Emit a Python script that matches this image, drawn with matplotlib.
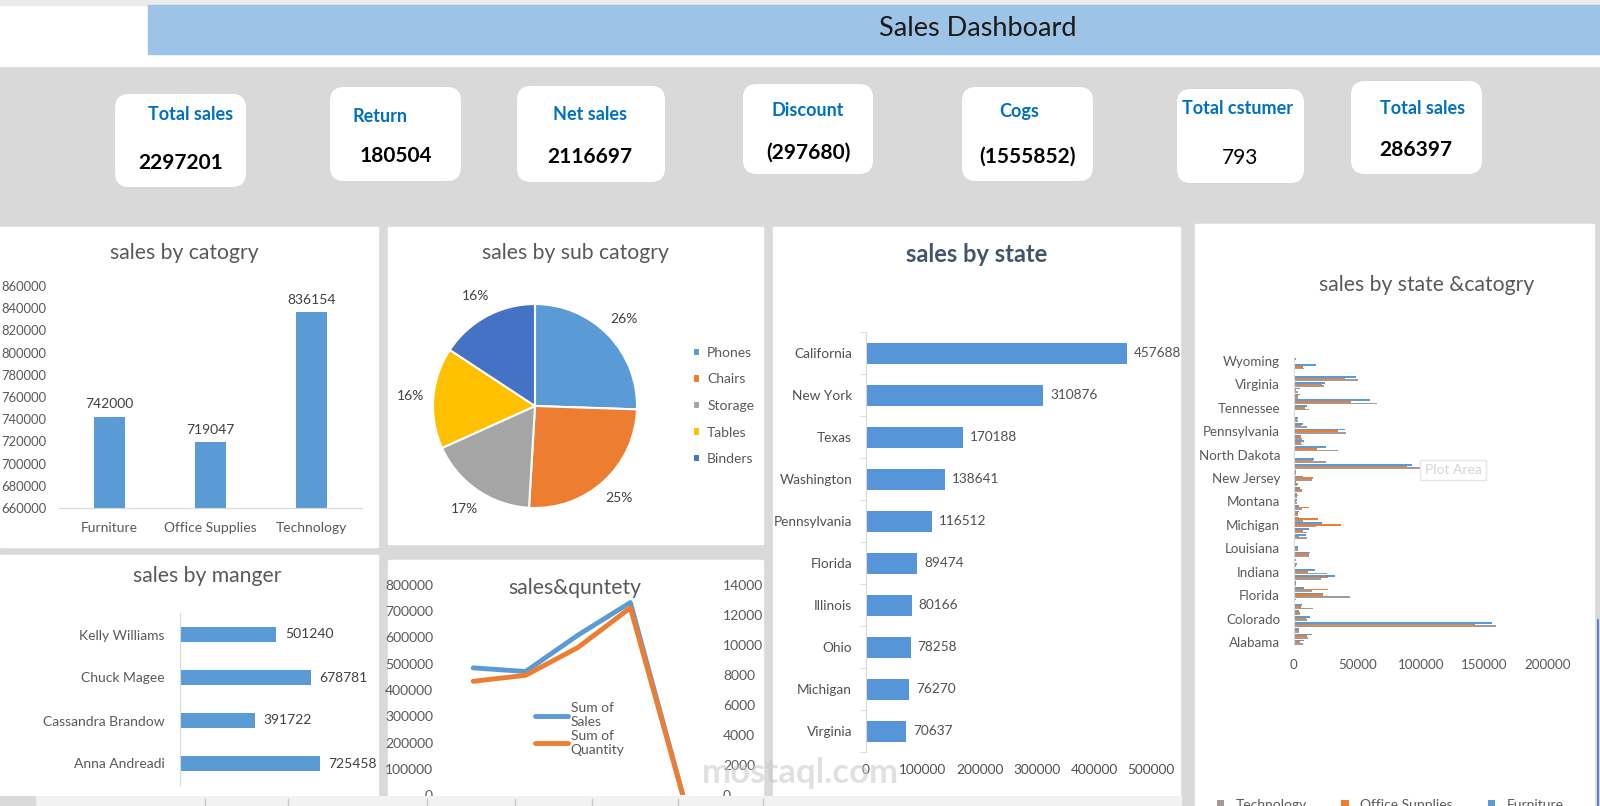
import matplotlib
matplotlib.use("Agg")
import matplotlib.pyplot as plt
from matplotlib.patches import Rectangle, FancyBboxPatch
import numpy as np

plt.rcParams['font.family'] = ['Lato', 'DejaVu Sans']

W, H = 1600, 806

# ---- data ----
kpi_titles = ['Total sales', 'Return', 'Net sales', 'Discount', 'Cogs', 'Total cstumer', 'Total sales']
kpi_values = ['2297201', '180504', '2116697', '(297680)', '(1555852)', '793', '286397']

cat_names = ['Furniture', 'Office Supplies', 'Technology']
cat_sales = [742000, 719047, 836154]

sub_names = ['Phones', 'Chairs', 'Storage', 'Tables', 'Binders']
sub_sales = [330007, 328449, 223844, 206966, 203413]

state_names = ['California', 'New York', 'Texas', 'Washington', 'Pennsylvania',
               'Florida', 'Illinois', 'Ohio', 'Michigan', 'Virginia']
state_sales = [457688, 310876, 170188, 138641, 116512, 89474, 80166, 78258, 76270, 70637]

manager_names = ['Kelly Williams', 'Chuck Magee', 'Cassandra Brandow', 'Anna Andreadi']
manager_sales = [501240, 678781, 391722, 725458]

years = ['2014', '2015', '2016', '2017', '(blank)']
year_sales = [484247, 470533, 609206, 733215, 0]
year_qty = [7581, 7979, 9837, 12476, 0]

sc_states = ['Alabama', 'Arizona', 'Arkansas', 'California', 'Colorado', 'Connecticut',
             'Delaware', 'District of Columbia', 'Florida', 'Georgia', 'Idaho', 'Illinois',
             'Indiana', 'Iowa', 'Kansas', 'Kentucky', 'Louisiana', 'Maine', 'Maryland',
             'Massachusetts', 'Michigan', 'Minnesota', 'Mississippi', 'Missouri', 'Montana',
             'Nebraska', 'Nevada', 'New Hampshire', 'New Jersey', 'New Mexico', 'New York',
             'North Carolina', 'North Dakota', 'Ohio', 'Oklahoma', 'Oregon', 'Pennsylvania',
             'Rhode Island', 'South Carolina', 'South Dakota', 'Tennessee', 'Texas', 'Utah',
             'Vermont', 'Virginia', 'Washington', 'West Virginia', 'Wisconsin', 'Wyoming']
sc_tech = [7000, 11000, 4000, 159300, 10200, 4400, 15000, 1000, 44000, 14000, 1500, 21000,
           26000, 1000, 700, 12000, 3000, 400, 10000, 10000, 17000, 7000, 3500, 6000, 2000,
           2000, 6000, 2500, 14000, 1500, 128600, 25000, 300, 35000, 6000, 6000, 41000,
           10000, 3000, 400, 12000, 65000, 3500, 3000, 24000, 50000, 400, 8000, 0]
sc_office = [4900, 10300, 3600, 142400, 9400, 5000, 5800, 700, 22500, 27000, 1500, 27000,
             11000, 1500, 1200, 12000, 3000, 400, 4000, 7000, 37000, 19000, 3000, 12000, 1500,
             3000, 6000, 3000, 15000, 1700, 89100, 15000, 300, 18000, 5800, 5500, 35000,
             5500, 2500, 500, 8500, 45000, 3200, 1500, 22000, 40000, 400, 7000, 0]
sc_furn = [7600, 14000, 4100, 156000, 12500, 4000, 6600, 1200, 23000, 8100, 1400, 32200,
           16500, 2100, 1000, 12600, 3200, 470, 9700, 11600, 22300, 3900, 4300, 4200, 2100,
           2500, 4700, 1800, 6800, 1600, 93200, 15600, 320, 25300, 7900, 5900, 40500,
           7100, 3000, 400, 10200, 60200, 4500, 4400, 24600, 48600, 400, 17100, 1600]

BLUE = '#5B9BD5'
ORANGE = '#ED7D31'
GRAY = '#A59A96'
TXT = '#595959'

fig = plt.figure(figsize=(16, 8.06), dpi=100, facecolor='#D9D9D9')


def px_axes(x, y, w, h):
    return fig.add_axes([x / W, 1 - (y + h) / H, w / W, h / H])


# background layer in pixel coordinates
bg = fig.add_axes([0, 0, 1, 1])
bg.set_xlim(0, W)
bg.set_ylim(H, 0)
bg.axis('off')

bg.add_patch(Rectangle((0, 0), W, 66, color='white'))
bg.add_patch(Rectangle((0, 0), W, 5, color='#EBEBEB'))
bg.add_patch(Rectangle((148, 5), W - 148, 49, color='#9DC3E6'))
bg.text(978, 29, 'Sales Dashboard', ha='center', va='center', fontsize=19.5, color='#1a1a1a')

# KPI cards
cards = [(115, 94, 131, 93), (330, 87, 131, 94), (517, 86, 148, 96), (743, 84, 130, 90),
         (962, 87, 131, 94), (1177, 89, 127, 94), (1351, 81, 131, 93)]
title_pos = [(191, 114), (380, 116), (590, 114), (808, 111), (1019, 112), (1238, 108), (1423, 108)]
value_pos = [(181, 163), (396, 156), (590, 157), (808, 153), (1028, 157), (1240, 158), (1416, 150)]
for i, (x, y, w, h) in enumerate(cards):
    bg.add_patch(FancyBboxPatch((x, y), w, h, boxstyle='round,pad=0,rounding_size=14',
                                fc='white', ec='none'))
    bg.text(*title_pos[i], kpi_titles[i], ha='center', va='center', fontsize=13,
            color='#0070C0', fontweight='bold')
    bg.text(*value_pos[i], kpi_values[i], ha='center', va='center', fontsize=15,
            color='black', fontweight='normal' if kpi_values[i] == '793' else 'bold')

# white panels
panels = [(0, 227, 378, 320), (388, 227, 375, 317), (773, 227, 407, 580),
          (1195, 224, 399, 582), (0, 555, 378, 252), (388, 560, 375, 246)]
for x, y, w, h in panels:
    bg.add_patch(Rectangle((x, y), w, h, color='white'))
bg.plot([1598, 1598], [620, 806], color='#4472C4', lw=1.2)

bg.text(184, 253, 'sales by catogry', ha='center', va='center', fontsize=15.2, color=TXT)
bg.text(575, 253, 'sales by sub catogry', ha='center', va='center', fontsize=15.2, color=TXT)
bg.text(977, 255, 'sales by state', ha='center', va='center', fontsize=17, color='#44546A',
        fontweight='bold')
bg.text(1427, 285, 'sales by state &catogry', ha='center', va='center', fontsize=15.2, color=TXT)
bg.text(207, 576, 'sales by manger', ha='center', va='center', fontsize=15.2, color=TXT)
bg.text(575, 588, 'sales&quntety', ha='center', va='center', fontsize=15.2, color=TXT)


def clean(ax, left=False, bottom=False, size=10):
    for s in ax.spines:
        ax.spines[s].set_visible(False)
    if left:
        ax.spines['left'].set_visible(True)
        ax.spines['left'].set_color('#D9D9D9')
    if bottom:
        ax.spines['bottom'].set_visible(True)
        ax.spines['bottom'].set_color('#D9D9D9')
    ax.set_facecolor('none')
    ax.tick_params(length=0, colors=TXT, labelsize=size)


# sales by category
ax1 = px_axes(59, 286, 303, 222)
b = ax1.bar(range(len(cat_names)), cat_sales, width=0.31, color=BLUE)
ax1.set_ylim(660000, 860000)
ax1.set_xlim(-0.5, 2.5)
ax1.set_yticks(np.arange(660000, 860001, 20000))
ax1.set_xticks(range(len(cat_names)), cat_names)
clean(ax1, bottom=True)
ax1.tick_params(axis='y', pad=9, labelsize=9.4)
ax1.tick_params(axis='x', pad=10)
ax1.bar_label(b, padding=5, fontsize=10, color='#404040')

# sales by sub category
axp = px_axes(535 - 102, 406 - 102, 204, 204)
wedges, _, autotexts = axp.pie(sub_sales, startangle=90, counterclock=False,
                               colors=[BLUE, ORANGE, '#A5A5A5', '#FFC000', '#4472C4'],
                               wedgeprops=dict(edgecolor='white', linewidth=1.5),
                               autopct='%1.0f%%', pctdistance=1.22,
                               textprops=dict(fontsize=10, color='#404040'))
axp.set_xlim(-1.0, 1.0)
axp.set_ylim(-1.0, 1.0)
axp.legend(wedges, sub_names, loc='center left', bbox_to_anchor=(680 / W, 1 - 406 / H),
           bbox_transform=fig.transFigure, frameon=False, fontsize=10, handlelength=0.55,
           handleheight=0.55, handletextpad=0.5, labelspacing=1.05, labelcolor=TXT)

# sales by state
axs = px_axes(866, 332, 285, 420)
b = axs.barh(range(len(state_names)), state_sales, height=0.5, color='#5595D8')
axs.set_ylim(len(state_names) - 0.5, -0.5)
axs.set_xlim(0, 500000)
axs.set_yticks(range(len(state_names)), state_names)
axs.set_yticks(np.arange(-0.5, len(state_names), 1), minor=True)
axs.set_xticks(np.arange(0, 500001, 100000))
clean(axs, left=True)
axs.tick_params(axis='y', which='minor', length=4, color='#D9D9D9')
axs.tick_params(labelsize=9.8, colors='#505050')
axs.tick_params(axis='y', pad=10)
axs.tick_params(axis='x', pad=9)
axs.bar_label(b, padding=5, fontsize=9.8, color='#505050')

# sales by manager
axm = px_axes(180, 613, 154, 172)
b = axm.barh(range(len(manager_names)), manager_sales, height=0.36, color=BLUE)
axm.set_ylim(len(manager_names) - 0.5, -0.5)
axm.set_xlim(0, 800000)
axm.set_yticks(range(len(manager_names)), manager_names)
axm.set_xticks([])
clean(axm, left=True)
axm.tick_params(axis='y', pad=11)
axm.bar_label(b, padding=6, fontsize=10, color='#404040')

# sales & quantity
axq = px_axes(447, 585, 262, 210)
l1, = axq.plot(range(len(years)), year_sales, color=BLUE, lw=3.5, solid_capstyle='round')
axq.set_ylim(0, 800000)
axq.set_xlim(-0.5, len(years) - 0.5)
axq.set_yticks(np.arange(0, 800001, 100000))
axq.set_xticks(range(len(years)), years)
clean(axq)
axq.tick_params(axis='y', pad=10)
axq2 = axq.twinx()
l2, = axq2.plot(range(len(years)), year_qty, color=ORANGE, lw=3.5, solid_capstyle='round')
axq2.set_ylim(0, 14000)
axq2.set_yticks(np.arange(0, 14001, 2000))
clean(axq2)
axq2.tick_params(axis='y', pad=10)
axq.legend([l1, l2], ['Sum of\nSales', 'Sum of\nQuantity'], loc='upper left',
           bbox_to_anchor=(522 / W, 1 - 690 / H), bbox_transform=fig.transFigure,
           frameon=False, fontsize=10, handlelength=2.4, handletextpad=0.2,
           labelspacing=0.1, labelcolor=TXT)

# sales by state & category
axc = px_axes(1294, 358, 254, 287)
y = np.arange(len(sc_states))
h = 0.28
axc.barh(y - h, sc_tech, height=h, color=GRAY, label='Technology')
axc.barh(y, sc_office, height=h, color=ORANGE, label='Office Supplies')
axc.barh(y + h, sc_furn, height=h, color=BLUE, label='Furniture')
axc.set_ylim(-0.5, len(sc_states) - 0.5)
axc.set_xlim(0, 200000)
axc.set_yticks(y[::4], sc_states[::4])
axc.set_xticks(np.arange(0, 200001, 50000))
clean(axc, left=True, size=9.6)
axc.tick_params(axis='y', pad=10)
axc.tick_params(axis='x', pad=10)
axc.legend(loc='center', bbox_to_anchor=(1390 / W, 1 - 805 / H), bbox_transform=fig.transFigure,
           ncol=3, frameon=False, fontsize=10, handlelength=0.55, handleheight=0.55,
           columnspacing=2.5, labelcolor=TXT)

fig.text(1453 / W, 1 - 470 / H, 'Plot Area', ha='center', va='center', fontsize=10,
         color='#D5D5D5', bbox=dict(boxstyle='square,pad=0.3', fc='white', ec='#E6E6E6'))
fig.text(800 / W, 1 - 773 / H, 'mostaql.com', ha='center', va='center', fontsize=25,
         color='#C8C8C8', alpha=0.55, fontweight='bold')

# bottom strip
strip = px_axes(0, 796, 1182, 10)
strip.set_xlim(0, 1182)
strip.set_ylim(10, 0)
strip.set_facecolor('#F2F2F2')
for s in strip.spines.values():
    s.set_visible(False)
strip.set_xticks([])
strip.set_yticks([])
strip.add_patch(Rectangle((0, 0), 35, 10, color='#DADADA'))
for xv in [205, 288, 427, 515, 592, 678, 763]:
    strip.plot([xv, xv], [3, 10], color='#C8C8C8', lw=1)

fig.savefig('out.png', dpi=100, facecolor=fig.get_facecolor())
